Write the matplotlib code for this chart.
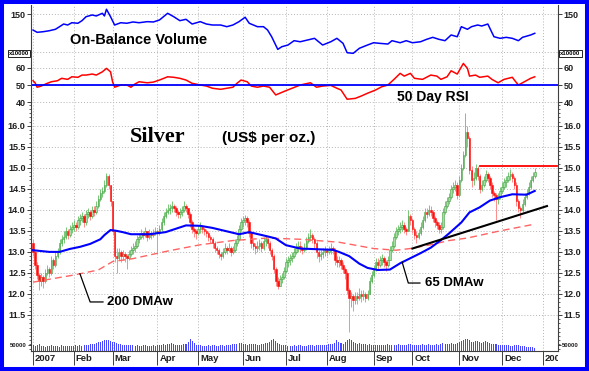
import numpy as np
import matplotlib.pyplot as plt
from matplotlib.patches import Rectangle
from matplotlib.ticker import MultipleLocator, FormatStrFormatter
from matplotlib.transforms import Bbox, TransformedBbox

plt.rcParams['font.family'] = ['Liberation Sans', 'DejaVu Sans']
plt.rcParams['font.weight'] = 'bold'

# ---- data (trading days of 2007) ----
first_open = 13.2
close = [
    13.0, 12.7, 12.45, 12.3, 12.4, 12.3, 12.5, 12.6, 12.5, 12.8,
    12.7, 12.9, 13.0, 13.2, 13.3, 13.35, 13.5, 13.4, 13.55, 13.6,
    13.65, 13.6, 13.75, 13.8, 13.85, 13.7, 13.9, 13.95, 13.85, 14.0,
    13.95, 14.1, 14.25, 14.4, 14.45, 14.6, 14.8, 14.6, 14.2, 13.5,
    12.9, 12.85, 13.0, 12.9, 12.95, 12.9, 12.85, 12.95, 13.05, 13.1,
    13.15, 13.3, 13.35, 13.45, 13.4, 13.5, 13.35, 13.45, 13.4, 13.45,
    13.5, 13.45, 13.55, 13.7, 13.85, 13.95, 14.0, 14.05, 14.1, 14.05,
    13.95, 13.9, 13.95, 14.0, 14.1, 14.05, 13.9, 13.7, 13.55, 13.5,
    13.45, 13.55, 13.6, 13.55, 13.5, 13.45, 13.35, 13.3, 13.2, 13.1,
    13.05, 12.95, 12.9, 13.0, 13.1, 13.05, 13.1, 13.0, 13.05, 13.2,
    13.3, 13.55, 13.7, 13.75, 13.8, 13.7, 13.45, 13.2, 13.15, 13.1,
    13.15, 13.2, 13.1, 13.25, 13.3, 13.2, 13.05, 12.9, 12.6, 12.3,
    12.2, 12.35, 12.4, 12.55, 12.75, 12.8, 12.85, 12.9, 13.0, 13.1,
    13.15, 13.1, 13.05, 13.1, 13.25, 13.35, 13.4, 13.3, 13.2, 13.0,
    12.9, 12.95, 13.0, 13.05, 13.0, 13.05, 13.1, 13.05, 12.8, 12.75,
    12.8, 12.7, 12.6, 12.5, 12.1, 11.9, 11.95, 11.85, 11.95, 11.9,
    12.0, 11.95, 12.0, 11.9, 12.0, 12.3, 12.45, 12.6, 12.75, 12.7,
    12.8, 12.85, 12.75, 12.7, 12.8, 13.05, 13.15, 13.35, 13.5, 13.55,
    13.6, 13.65, 13.55, 13.5, 13.85, 13.75, 13.55, 13.4, 13.35, 13.45,
    13.6, 13.75, 13.95, 13.9, 14.0, 13.95, 13.8, 13.7, 13.65, 13.55,
    13.6, 13.95, 14.1, 14.2, 14.3, 14.5, 14.55, 14.6, 14.35, 14.7,
    15.0, 15.3, 15.85, 15.7, 14.95, 14.7, 14.75, 15.0, 14.8, 14.5,
    14.6, 14.7, 14.85, 14.75, 14.6, 14.4, 14.35, 14.25, 14.3, 14.45,
    14.55, 14.65, 14.7, 14.8, 14.85, 14.75, 14.6, 14.2, 14.05, 14.0,
    14.15, 14.3, 14.4, 14.55, 14.7, 14.8, 14.9]
high = [
    13.3, 13.05, 12.75, 12.5, 12.5, 12.45, 12.6, 12.7, 12.65, 12.9,
    12.85, 13.0, 13.1, 13.3, 13.4, 13.5, 13.6, 13.55, 13.65, 13.7,
    13.75, 13.7, 13.85, 13.9, 13.95, 13.9, 14.0, 14.05, 14.0, 14.1,
    14.1, 14.2, 14.35, 14.5, 14.55, 14.7, 14.88, 14.85, 14.6, 14.2,
    13.5, 13.1, 13.1, 13.05, 13.05, 13.0, 12.95, 13.05, 13.15, 13.2,
    13.25, 13.4, 13.45, 13.55, 13.5, 13.6, 13.5, 13.55, 13.5, 13.55,
    13.6, 13.55, 13.65, 13.8, 13.95, 14.05, 14.15, 14.15, 14.2, 14.15,
    14.1, 14.0, 14.05, 14.1, 14.22, 14.15, 14.05, 13.95, 13.75, 13.6,
    13.55, 13.65, 13.7, 13.65, 13.6, 13.55, 13.5, 13.4, 13.35, 13.25,
    13.15, 13.1, 13.0, 13.1, 13.2, 13.15, 13.2, 13.15, 13.15, 13.3,
    13.4, 13.65, 13.8, 13.85, 13.88, 13.85, 13.75, 13.5, 13.3, 13.2,
    13.25, 13.3, 13.25, 13.35, 13.4, 13.35, 13.25, 13.1, 12.95, 12.65,
    12.4, 12.45, 12.5, 12.65, 12.85, 12.9, 12.95, 13.0, 13.1, 13.2,
    13.25, 13.25, 13.15, 13.2, 13.35, 13.45, 13.55, 13.45, 13.35, 13.25,
    13.05, 13.05, 13.1, 13.15, 13.1, 13.15, 13.2, 13.15, 13.1, 12.9,
    12.9, 12.85, 12.75, 12.65, 12.55, 12.15, 12.05, 12.0, 12.05, 12.05,
    12.15, 12.1, 12.1, 12.05, 12.1, 12.4, 12.55, 12.7, 12.85, 12.85,
    12.9, 12.95, 12.9, 12.8, 12.9, 13.15, 13.25, 13.45, 13.6, 13.65,
    13.7, 13.75, 13.7, 13.6, 14.0, 13.9, 13.8, 13.6, 13.5, 13.55,
    13.7, 13.85, 14.05, 14.05, 14.12, 14.08, 14.0, 13.85, 13.75, 13.7,
    13.7, 14.05, 14.2, 14.3, 14.4, 14.6, 14.65, 14.7, 14.65, 14.8,
    15.1, 15.4, 16.3, 16.0, 15.75, 15.05, 14.9, 15.1, 15.05, 14.85,
    14.7, 14.8, 14.95, 14.9, 14.8, 14.65, 14.45, 14.4, 14.4, 14.55,
    14.65, 14.75, 14.8, 14.9, 14.98, 14.9, 14.8, 14.65, 14.25, 14.1,
    14.25, 14.4, 14.5, 14.65, 14.8, 14.9, 15.0]
low = [
    12.9, 12.6, 12.35, 12.1, 12.2, 12.15, 12.25, 12.45, 12.4, 12.45,
    12.6, 12.65, 12.85, 12.95, 13.15, 13.2, 13.3, 13.3, 13.35, 13.45,
    13.5, 13.5, 13.55, 13.65, 13.7, 13.6, 13.65, 13.8, 13.75, 13.8,
    13.85, 13.9, 14.05, 14.2, 14.3, 14.4, 14.55, 14.5, 14.1, 13.4,
    12.75, 12.5, 12.8, 12.75, 12.8, 12.75, 12.6, 12.8, 12.9, 12.95,
    13.0, 13.1, 13.2, 13.3, 13.3, 13.35, 13.25, 13.3, 13.3, 13.35,
    13.4, 13.0, 13.4, 13.5, 13.65, 13.8, 13.9, 13.9, 13.95, 13.95,
    13.85, 13.8, 13.8, 13.85, 13.95, 13.95, 13.8, 13.6, 13.45, 13.35,
    13.3, 13.4, 13.45, 13.45, 13.4, 13.35, 13.25, 13.2, 13.1, 13.0,
    12.95, 12.85, 12.8, 12.85, 12.95, 12.95, 13.0, 12.9, 12.95, 13.0,
    13.15, 13.25, 13.5, 13.6, 13.65, 13.6, 13.35, 13.1, 13.05, 12.95,
    13.0, 13.05, 13.0, 13.05, 13.15, 13.1, 12.95, 12.8, 12.5, 12.2,
    12.12, 12.2, 12.25, 12.35, 12.5, 12.65, 12.7, 12.75, 12.85, 12.95,
    13.0, 13.0, 12.95, 13.0, 13.05, 13.2, 13.25, 13.2, 13.1, 12.85,
    12.75, 12.8, 12.85, 12.9, 12.9, 12.95, 12.95, 12.95, 12.7, 12.65,
    12.65, 12.6, 12.5, 12.35, 12.0, 11.1, 11.7, 11.6, 11.75, 11.75,
    11.85, 11.8, 11.85, 11.8, 11.85, 12.0, 12.25, 12.4, 12.55, 12.6,
    12.65, 12.7, 12.65, 12.55, 12.65, 12.8, 13.0, 13.1, 13.3, 13.4,
    13.45, 13.5, 13.45, 13.4, 13.5, 13.65, 13.45, 13.3, 13.2, 13.3,
    13.4, 13.55, 13.7, 13.8, 13.85, 13.85, 13.7, 13.6, 13.55, 13.45,
    13.45, 13.55, 13.9, 14.05, 14.15, 14.25, 14.4, 14.45, 14.25, 14.3,
    14.65, 14.95, 15.25, 15.5, 14.85, 14.55, 14.6, 14.7, 14.7, 14.4,
    14.45, 14.55, 14.65, 14.65, 14.5, 14.3, 14.2, 13.75, 14.15, 14.25,
    14.4, 14.5, 14.55, 14.65, 14.7, 14.65, 14.5, 14.1, 13.95, 13.8,
    13.95, 14.1, 14.25, 14.35, 14.5, 14.65, 14.75]
volume_k = [
    45, 40, 50, 55, 38, 42, 35, 40, 38, 45,
    40, 42, 38, 35, 45, 40, 42, 38, 44, 40,
    42, 45, 40, 48, 44, 50, 46, 52, 55, 60,
    58, 62, 70, 75, 80, 88, 85, 90, 78, 70,
    72, 65, 60, 55, 50, 48, 45, 50, 52, 48,
    44, 46, 42, 40, 48, 45, 42, 40, 44, 46,
    42, 45, 48, 52, 55, 50, 58, 60, 62, 55,
    50, 52, 48, 45, 55, 60, 70, 95, 80, 65,
    50, 45, 48, 42, 40, 44, 46, 42, 48, 45,
    42, 40, 45, 48, 44, 50, 52, 46, 55, 60,
    58, 62, 65, 60, 55, 52, 58, 60, 56, 54,
    52, 50, 55, 58, 62, 68, 75, 90, 100, 80,
    65, 55, 50, 48, 45, 42, 44, 40, 46, 42,
    45, 48, 44, 40, 42, 46, 50, 48, 44, 45,
    48, 52, 50, 46, 48, 55, 60, 58, 62, 85,
    70, 65, 60, 75, 90, 100, 85, 70, 68, 60,
    62, 58, 55, 60, 52, 55, 50, 48, 52, 46,
    50, 45, 48, 52, 55, 50, 48, 46, 52, 55,
    50, 48, 45, 52, 58, 55, 50, 46, 48, 52,
    50, 55, 48, 52, 56, 50, 48, 52, 55, 50,
    58, 62, 60, 55, 58, 65, 60, 55, 62, 70,
    80, 85, 95, 100, 88, 75, 70, 82, 78, 70,
    65, 72, 80, 75, 68, 60, 55, 58, 52, 50,
    48, 45, 50, 46, 44, 42, 45, 48, 52, 40,
    38, 42, 35, 36, 30, 32, 28]

ma65_day = [0, 8, 13, 18, 23, 28, 33, 35, 38, 41, 44, 48, 57, 65, 75, 82, 88, 101, 106, 114,
            119, 124, 131, 141, 147, 150, 155, 160, 164, 169, 175, 180, 185, 190, 195, 200,
            204, 210, 214, 219, 224, 229, 235, 242, 246]
ma65 = [13.04, 13.0, 13.0, 13.07, 13.12, 13.19, 13.3, 13.4, 13.52, 13.5, 13.47, 13.42, 13.42,
        13.47, 13.63, 13.62, 13.57, 13.42, 13.47, 13.38, 13.32, 13.16, 13.08, 13.06, 13.05,
        13.0, 12.9, 12.72, 12.62, 12.57, 12.58, 12.73, 12.85, 12.97, 13.1, 13.28, 13.44,
        13.7, 13.94, 14.06, 14.22, 14.3, 14.37, 14.36, 14.45]
ma200_day = [0, 8, 20, 32, 39, 49, 66, 82, 98, 115, 131, 150, 167, 178, 185, 195, 204, 213, 229, 246]
ma200 = [12.28, 12.35, 12.45, 12.57, 12.77, 12.84, 13.02, 13.17, 13.27, 13.33, 13.3, 13.23,
         13.08, 13.04, 13.08, 13.17, 13.27, 13.33, 13.5, 13.66]

obv_day = [0, 2, 5, 8, 11, 13, 15, 17, 19, 22, 24, 26, 29, 31, 34, 35, 36, 38, 40, 43,
           46, 49, 52, 56, 59, 62, 66, 69, 72, 75, 78, 82, 85, 88, 92, 95, 98, 101, 104, 106,
           110, 113, 115, 117, 120, 122, 125, 128, 131, 136, 138, 142, 146, 149, 152, 154, 157,
           160, 164, 167, 170, 174, 176, 180, 183, 186, 190, 193, 196, 199, 202, 205, 208, 210,
           213, 215, 218, 220, 223, 224, 226, 229, 232, 235, 238, 240, 244, 246]
obv = [129.3, 126.3, 127.1, 128.4, 130.3, 133.7, 137.2, 135.9, 138.9, 138.2,
       141.6, 146.8, 149.1, 147.8, 151.3, 147.8, 156.6, 146.8, 135.9, 138.9,
       138.2, 139.9, 138.9, 140.3, 139.9, 142.5, 151.3, 146.8, 141.6, 143.4,
       137.2, 140.3, 137.2, 135.9, 135.9, 133.7, 135.9, 140.3, 146.1, 138.2,
       133.7, 133.7, 129.3, 120.5, 103.9, 107.4, 109.6, 115.3, 113.9, 117.1,
       118.4, 109.6, 113.9, 118.4, 111.8, 99.5, 98.7, 105.3, 109.6, 112.6,
       111.8, 110.9, 115.3, 112.6, 115.3, 112.6, 113.9, 117.1, 119.7, 117.1,
       115.3, 122.8, 120.5, 133.7, 130.3, 133.7, 135.9, 134.6, 137.2, 131.6,
       120.5, 118.4, 119.7, 118.4, 115.3, 119.7, 122.8, 125.0]

rsi_day = [0, 1, 2, 4, 7, 9, 12, 14, 17, 19, 22, 24, 26, 29, 31, 34, 36, 38, 39, 40,
           43, 46, 48, 50, 52, 56, 59, 62, 66, 69, 72, 75, 78, 82, 85, 88, 92, 95, 98, 100,
           102, 105, 107, 110, 113, 116, 119, 121, 124, 127, 131, 136, 139, 142, 146, 149, 151,
           154, 158, 161, 164, 168, 171, 174, 177, 180, 182, 185, 187, 191, 195, 198, 200, 203,
           205, 208, 211, 213, 214, 217, 219, 223, 225, 228, 231, 235, 236, 238, 240, 244, 246]
rsi = [52.5, 51.3, 48.7, 49.4, 51.0, 51.9, 52.5, 53.9, 53.3, 54.8,
       54.5, 55.8, 55.8, 56.4, 55.8, 57.7, 59.7, 57.7, 51.9, 48.7,
       50.0, 50.0, 48.7, 50.6, 51.9, 51.3, 51.7, 52.9, 54.8, 54.5,
       53.9, 52.9, 51.0, 50.0, 49.4, 48.1, 47.5, 48.1, 48.7, 51.0,
       52.9, 51.9, 49.4, 48.7, 49.4, 48.7, 44.2, 45.2, 46.7, 48.1,
       50.0, 51.3, 48.7, 49.4, 49.8, 48.1, 47.1, 41.7, 42.2, 43.6,
       45.2, 47.1, 49.0, 50.0, 53.3, 56.8, 55.2, 56.8, 53.9, 53.3,
       55.8, 55.2, 53.3, 54.8, 58.3, 56.4, 62.6, 59.7, 55.2, 55.8,
       54.5, 55.2, 53.3, 51.3, 53.3, 54.5, 52.9, 50.0, 51.3, 53.9, 54.8]

# trend line and resistance line drawn by the chartist
trend_day = [186, 252]
trend_val = [13.08, 14.09]
resist_day = [219, 257]
resist_val = [15.05, 15.05]

month_idx = [0, 20, 39, 61, 81, 103, 124, 144, 167, 186, 209, 230, 250]
month_lab = ['2007', 'Feb', 'Mar', 'Apr', 'May', 'Jun', 'Jul', 'Aug', 'Sep', 'Oct', 'Nov', 'Dec', '2008']

# ---- figure ----
W, H = 589, 371
fig = plt.figure(figsize=(W / 100, H / 100), dpi=100)
XL, XR = 31, 558


def panel(top, bottom):
    return fig.add_axes([XL / W, 1 - bottom / H, (XR - XL) / W, (bottom - top) / H])


ax_obv = panel(5, 54)
ax_rsi = panel(54, 103)
ax_px = panel(103, 351)
ax_vol = panel(321, 351)

grid_kw = dict(color='#b4b4b4', linestyle=(0, (1, 2)), linewidth=0.7)
for ax in (ax_obv, ax_rsi, ax_px, ax_vol):
    ax.set_xlim(-1, 257.4)
    for s in ('top', 'bottom'):
        ax.spines[s].set_visible(False)
    for s in ('left', 'right'):
        ax.spines[s].set_color('#404040')
        ax.spines[s].set_linewidth(0.8)
    ax.tick_params(axis='y', which='both', left=True, right=True, labelleft=True,
                   labelright=True, direction='out', length=3, width=0.6,
                   labelsize=6.5, pad=1, colors='#202020')
    ax.set_xticks(month_idx)
    ax.tick_params(axis='x', length=0, labelbottom=False)
for ax in (ax_obv, ax_rsi, ax_px):
    ax.grid(True, **grid_kw)
    ax.set_axisbelow(True)

# OBV panel
ax_obv.plot(obv_day, obv, color='#0000ff', lw=1.1)
ax_obv.set_ylim(97.8, 162.2)
ax_obv.set_yticks([100, 150])
ax_obv.set_yticklabels(['', '150'])
ax_obv.text(18.1, 116.2, 'On-Balance Volume', fontsize=10.5, ha='left', va='center')

# RSI panel
ax_rsi.plot(rsi_day, rsi, color='#ff0000', lw=1.1)
ax_rsi.axhline(50, color='#0000ff', lw=1.3)
ax_rsi.set_ylim(39.5, 68.1)
ax_rsi.set_yticks([40, 50, 60])
ax_rsi.text(178.4, 43.0, '50 Day RSI', fontsize=10, ha='left', va='center')

# price panel
days = np.arange(len(close))
c = np.array(close)
o = np.array([first_open] + close[:-1])
hi = np.maximum(np.array(high), np.maximum(o, c))
lo = np.minimum(np.array(low), np.minimum(o, c))
up = c >= o
wick_col = np.where(up, '#78c878', '#ff8c8c')
ax_px.vlines(days, lo, hi, colors=wick_col, lw=0.7, zorder=2)
body_lo = np.minimum(o, c)
body_h = np.maximum(np.abs(c - o), 0.03)
ax_px.bar(days[up], body_h[up], bottom=body_lo[up], width=0.75, color='#a6dca6',
          edgecolor='#3f9f3f', lw=0.4, zorder=3)
ax_px.bar(days[~up], body_h[~up], bottom=body_lo[~up], width=0.75, color='#ff1010',
          edgecolor='#ff1010', lw=0.4, zorder=3)

ax_px.plot(ma200_day, ma200, color='#ff6464', lw=1.0, dashes=(5, 3), zorder=4)
ax_px.plot(ma65_day, ma65, color='#0000ff', lw=1.5, zorder=5)
ax_px.plot(trend_day, trend_val, color='black', lw=1.5, zorder=5)
ax_px.plot(resist_day, resist_val, color='#ff0000', lw=1.3, zorder=5)

ax_px.set_ylim(10.644, 16.54)
ax_px.set_yticks(np.arange(11.5, 16.01, 0.5))
ax_px.yaxis.set_major_formatter(FormatStrFormatter('%.1f'))
ax_px.yaxis.set_minor_locator(MultipleLocator(0.1))
ax_px.tick_params(axis='y', which='minor', length=1.5, width=0.5)
ax_px.spines['bottom'].set_visible(True)
ax_px.spines['bottom'].set_color('#404040')
ax_px.spines['bottom'].set_linewidth(0.8)
ax_px.tick_params(axis='x', direction='out', length=10, width=0.7, colors='#404040')

ax_px.text(61.3, 15.73, 'Silver', family=['Liberation Serif', 'DejaVu Serif'],
           fontsize=16, ha='center', va='center')
ax_px.text(92.6, 15.71, '(US$ per oz.)', fontsize=11, ha='left', va='center')

# pointers to the moving averages
d0 = 23
ax_px.plot([d0, 28, 34.3], [np.interp(d0, ma200_day, ma200), 11.81, 11.81], color='black', lw=0.9, zorder=6)
ax_px.text(36.3, 11.81, '200 DMAw', fontsize=9.5, ha='left', va='center')
d1 = 181
ax_px.plot([d1, 184, 189.7], [np.interp(d1, ma65_day, ma65), 12.26, 12.26], color='black', lw=0.9, zorder=6)
ax_px.text(192.2, 12.26, '65 DMAw', fontsize=9.5, ha='left', va='center')

# volume overlay
ax_vol.patch.set_visible(False)
ax_vol.bar(days, np.array(volume_k) * 1000, width=0.5, color='#4646ff', lw=0)
ax_vol.set_ylim(0, 240000)
ax_vol.set_yticks([50000])
ax_vol.set_yticklabels(['50000'])
ax_vol.tick_params(axis='y', labelsize=4.3, length=2)
for s in ('left', 'right'):
    ax_vol.spines[s].set_visible(False)

# month labels
xt = ax_px.get_xaxis_transform()
clip = TransformedBbox(Bbox([[0, 0], [XR / W, 1]]), fig.transFigure)
for d, lab in zip(month_idx, month_lab):
    t = fig.text(d + 0.9, -0.031, lab, transform=xt, fontsize=6.8, ha='left', va='center',
                 color='#202020')
    t.set_clip_box(clip)
    t.set_clip_on(True)

# x10000 boxes
for xc in (19, 570.5):
    fig.text(xc / W, 1 - 53.5 / H, 'x10000', fontsize=4.3, ha='center', va='center',
             bbox=dict(boxstyle='square,pad=0.15', fc='white', ec='black', lw=0.6))

# blue frame
fig.patches.append(Rectangle((2 / W, 2 / H), (W - 4) / W, (H - 4) / H, transform=fig.transFigure,
                             fill=False, ec='#0000ff', lw=2.9))

fig.savefig('out.png', dpi=100)
